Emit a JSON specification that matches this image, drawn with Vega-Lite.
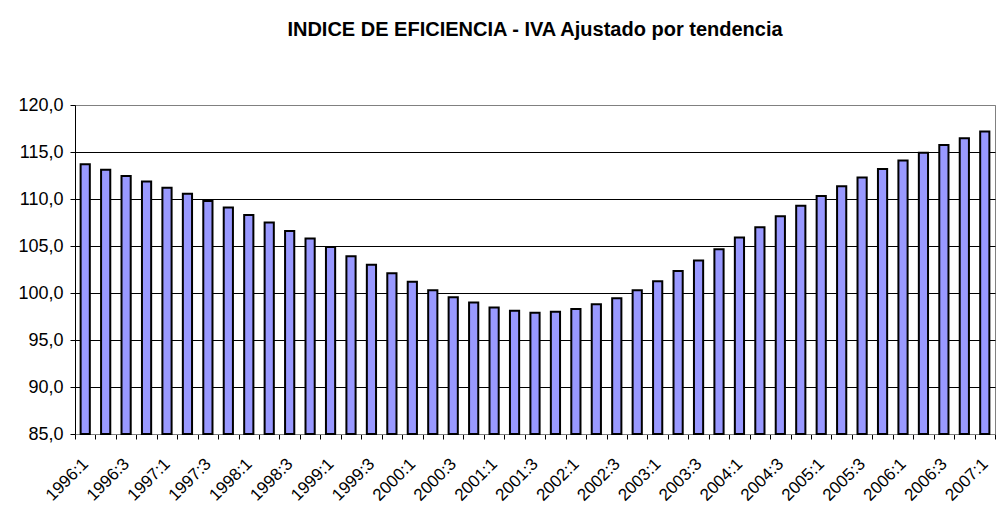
{
  "$schema": "https://vega.github.io/schema/vega-lite/v6.json",
  "autosize": "none",
  "width": 920,
  "height": 329,
  "padding": {"left": 75, "top": 105, "right": 8, "bottom": 77},
  "background": "white",
  "title": {
    "text": "INDICE DE EFICIENCIA - IVA Ajustado por tendencia",
    "font": "Liberation Sans",
    "fontSize": 20,
    "fontWeight": "bold",
    "color": "black",
    "anchor": "middle",
    "offset": 56
  },
  "data": {
    "values": [
      {"q": "1996:1", "v": 113.7}, {"q": "1996:2", "v": 113.1}, {"q": "1996:3", "v": 112.45}, {"q": "1996:4", "v": 111.85},
      {"q": "1997:1", "v": 111.2}, {"q": "1997:2", "v": 110.55}, {"q": "1997:3", "v": 109.8}, {"q": "1997:4", "v": 109.1},
      {"q": "1998:1", "v": 108.3}, {"q": "1998:2", "v": 107.5}, {"q": "1998:3", "v": 106.6}, {"q": "1998:4", "v": 105.8},
      {"q": "1999:1", "v": 104.9}, {"q": "1999:2", "v": 103.9}, {"q": "1999:3", "v": 103.0}, {"q": "1999:4", "v": 102.1},
      {"q": "2000:1", "v": 101.2}, {"q": "2000:2", "v": 100.3}, {"q": "2000:3", "v": 99.55}, {"q": "2000:4", "v": 99.0},
      {"q": "2001:1", "v": 98.45}, {"q": "2001:2", "v": 98.1}, {"q": "2001:3", "v": 97.9}, {"q": "2001:4", "v": 98.0},
      {"q": "2002:1", "v": 98.3}, {"q": "2002:2", "v": 98.8}, {"q": "2002:3", "v": 99.45}, {"q": "2002:4", "v": 100.3},
      {"q": "2003:1", "v": 101.25}, {"q": "2003:2", "v": 102.35}, {"q": "2003:3", "v": 103.45}, {"q": "2003:4", "v": 104.66},
      {"q": "2004:1", "v": 105.9}, {"q": "2004:2", "v": 107.0}, {"q": "2004:3", "v": 108.17}, {"q": "2004:4", "v": 109.27},
      {"q": "2005:1", "v": 110.33}, {"q": "2005:2", "v": 111.36}, {"q": "2005:3", "v": 112.3}, {"q": "2005:4", "v": 113.2},
      {"q": "2006:1", "v": 114.1}, {"q": "2006:2", "v": 114.93}, {"q": "2006:3", "v": 115.75}, {"q": "2006:4", "v": 116.46},
      {"q": "2007:1", "v": 117.17}
    ]
  },
  "mark": {
    "type": "bar",
    "width": {"band": 0.45},
    "fill": "#9999FF",
    "stroke": "black",
    "strokeWidth": 2
  },
  "encoding": {
    "x": {
      "field": "q",
      "type": "ordinal",
      "sort": null,
      "scale": {"paddingInner": 0, "paddingOuter": 0},
      "axis": {
        "title": null,
        "labelAngle": -45,
        "labelAlign": "right",
        "labelBaseline": "middle",
        "labelFont": "Liberation Sans",
        "labelFontSize": 17,
        "labelColor": "black",
        "labelPadding": 22,
        "labelOverlap": false,
        "labelExpr": "(split(datum.value, ':')[1] == '1' || split(datum.value, ':')[1] == '3') ? datum.value : ''",
        "tickBand": "extent",
        "tickSize": 5,
        "tickColor": "black",
        "domainColor": "#808080",
        "grid": false
      }
    },
    "y": {
      "field": "v",
      "type": "quantitative",
      "scale": {"domain": [85, 120], "zero": false, "nice": false},
      "axis": {
        "title": null,
        "values": [85, 90, 95, 100, 105, 110, 115, 120],
        "labelExpr": "replace(format(datum.value, '.1f'), '.', ',')",
        "labelFont": "Liberation Sans",
        "labelFontSize": 18,
        "labelColor": "black",
        "labelPadding": 7,
        "tickSize": 5,
        "tickColor": "black",
        "domainColor": "black",
        "grid": true,
        "gridColor": {"condition": {"test": "datum.value == 120 || datum.value == 85", "value": "#808080"}, "value": "black"},
        "gridOpacity": 1,
        "gridWidth": 1
      }
    },
    "y2": {"datum": 85}
  },
  "config": {
    "view": {"stroke": "#808080", "strokeWidth": 1}
  }
}
